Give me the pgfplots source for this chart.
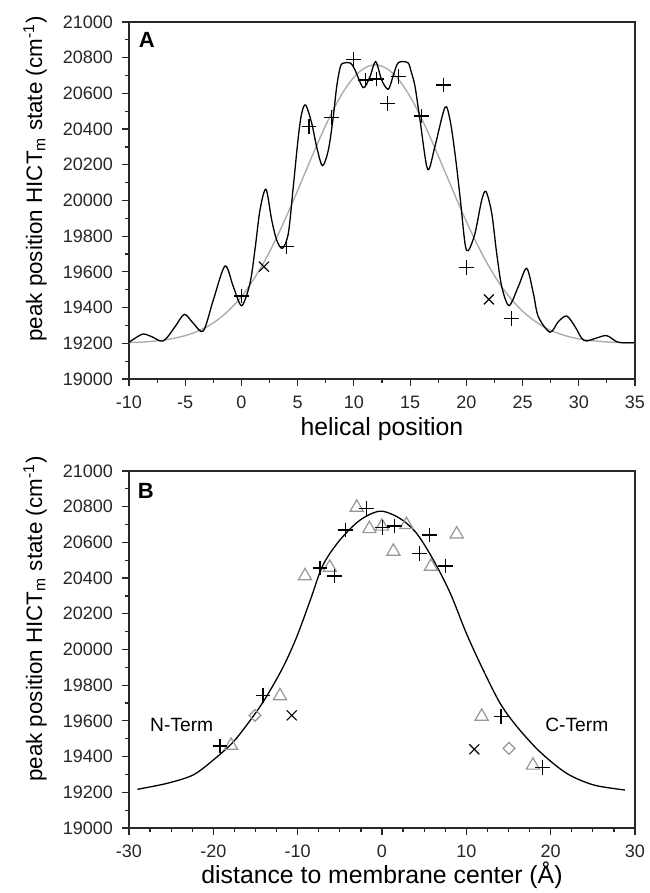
\documentclass[border=0pt]{standalone}
\usepackage{fontspec}
\setmainfont{Liberation Sans}
\usepackage{pgfplots}
\pgfplotsset{compat=1.18}
\definecolor{curvegray}{RGB}{172,172,172}
\definecolor{markgray}{RGB}{150,150,150}
\definecolor{axgray}{RGB}{40,40,40}

\pgfplotsset{
 myaxis/.style={
  scale only axis, width=253pt, height=178.5pt,
  ymin=19000, ymax=21000, ytick={19000,19200,...,21000}, minor y tick num=1,
  scaled y ticks=false,
  yticklabel={\pgfmathprintnumber[fixed,precision=0,1000 sep={}]{\tick}},
  axis line style={line width=0.75pt, axgray},
  every tick/.style={line width=0.6pt, axgray},
  tick align=outside, major tick length=3.5pt, minor tick length=1.8pt,
  xtick pos=bottom, ytick pos=left,
  /pgf/number format/assume math mode=true,
  /pgf/number format/1000 sep={},
  ticklabel style={font=\fontsize{9}{10}\selectfont, text=black!85},
  xticklabel style={yshift=-1.5pt},
  yticklabel style={xshift=-1pt},
  xlabel style={font=\fontsize{12.4}{14}\selectfont, at={(axis description cs:0.5,0)}, anchor=north, inner sep=0pt},
  ylabel style={font=\fontsize{11.2}{13}\selectfont, anchor=center, inner sep=0pt},
  ylabel={peak position HICT\textsubscript{m} state (cm\textsuperscript{-1})},
  clip=false,
 },
 plusm/.style={only marks, mark=+, mark size=3.7pt, mark options={line width=0.6pt, black}},
 xm/.style={only marks, mark=x, mark size=3.5pt, mark options={line width=0.6pt, black}},
 trim/.style={only marks, mark=triangle, mark size=3.8pt, mark options={line width=0.6pt, markgray}},
 diam/.style={only marks, mark=square, mark size=2.1pt, mark options={rotate=45, line width=0.6pt, markgray}},
}

\begin{document}
\begin{tikzpicture}
\path[use as bounding box] (0,0) rectangle (324.5pt,446.5pt);

% ---------------- Panel A ----------------
\begin{axis}[myaxis, at={(64.5pt,257pt)}, anchor=south west,
  xmin=-10, xmax=35, xtick={-10,-5,...,35}, minor x tick num=1,
  xlabel={helical position},
  xlabel style={yshift=-19pt},
  ylabel style={at={(axis description cs:-0.1858,0.56)}},
]
\addplot[curvegray, line width=0.7pt, smooth] coordinates {
(-10,19204) (-9,19206) (-8,19211) (-7,19217) (-6,19228) (-5,19243) (-4,19265)
(-3,19295) (-2,19337) (-1,19392) (0,19462) (1,19550) (2,19654) (3,19775)
(4,19911) (5,20056) (6,20206) (7,20353) (8,20488) (9,20603) (10,20691)
(11,20744) (12,20760) (13,20736) (14,20676) (15,20582) (16,20462) (17,20324)
(18,20176) (19,20027) (20,19883) (21,19750) (22,19632) (23,19530) (24,19447)
(25,19380) (26,19328) (27,19288) (28,19260) (29,19239) (30,19225) (31,19216)
(32,19210) (33,19206) (34,19203) (35,19202)
};
\addplot[black, line width=0.65pt, smooth, tension=0.5] coordinates {
(-10,19205) (-9.47,19228) (-8.73,19252) (-7.98,19237) (-6.95,19213)
(-5.9,19293) (-5.08,19362) (-4.28,19312) (-3.39,19269) (-2.5,19443)
(-1.46,19633) (-0.72,19517) (0.02,19411) (0.76,19536) (1.2,19723)
(1.65,19947) (2.18,20063) (2.69,19891) (3.13,19779) (3.64,19732)
(4.17,19816) (4.61,20077) (5.06,20357) (5.36,20489) (5.71,20535)
(6.25,20433) (6.69,20301) (7.2,20195) (7.73,20283) (8.17,20470)
(8.47,20638) (8.8,20750) (9.1,20770) (9.7,20770) (10.1,20731)
(10.84,20632) (11.43,20694) (11.94,20778) (12.47,20675) (13.06,20623)
(13.5,20700) (13.95,20772) (14.8,20772) (15.1,20720) (15.44,20638)
(15.88,20451) (16.56,20175) (17.2,20301) (18.1,20522) (18.55,20451)
(18.99,20264) (19.44,20021) (19.88,19760) (20.18,19719) (20.77,19816)
(21.37,20003) (21.75,20050) (22.26,19928) (22.7,19704) (23.15,19517)
(23.8,19411) (24.62,19517) (25.37,19620) (25.96,19480) (26.4,19349)
(27.44,19262) (28.18,19321) (28.93,19353) (29.67,19293) (30.26,19228)
(30.7,19213) (31.6,19230) (32.48,19243) (33.37,19209) (34,19203) (35,19203)
};
\addplot[plusm] coordinates {
(0,19465) (4,19741) (6,20414) (8,20466) (10,20791) (11,20675) (12,20681)
(13,20544) (14,20694) (16,20473) (18,20647) (20,19624) (24,19340)
};
\addplot[xm] coordinates {(2,19629) (22,19446)};
\node[font=\bfseries\fontsize{11}{12}\selectfont] at (axis description cs:0.035,0.95) {A};
\end{axis}

% ---------------- Panel B ----------------
\begin{axis}[myaxis, at={(64.5pt,32.5pt)}, anchor=south west,
  xmin=-30, xmax=30, xtick={-30,-20,...,30}, minor x tick num=3,
  xlabel={distance to membrane center (Å)},
  xlabel style={yshift=-16.5pt},
  ylabel style={at={(axis description cs:-0.1858,0.585)}},
]
\addplot[black, line width=0.65pt, smooth] coordinates {
(-29.0,19217) (-25.5,19250) (-22.4,19297) (-20.0,19381) (-17.6,19484)
(-15.3,19624) (-13.7,19736) (-11.7,19904) (-10.1,20072) (-8.5,20277)
(-7.0,20473) (-5.0,20613) (-2.6,20725) (-0.2,20775) (2.1,20735)
(4.1,20651) (6.1,20501) (8.1,20315) (10.0,20091) (12.0,19885)
(14.0,19699) (16.0,19568) (18.7,19428) (21.9,19306) (25.1,19241) (28.8,19213)
};
\addplot[trim] coordinates {
(-17.9,19462) (-12.1,19740) (-9.13,20412) (-6.2,20460) (-3.0,20796)
(-1.5,20676) (0,20690) (1.35,20549) (2.9,20699) (5.8,20465) (8.86,20646)
(11.82,19625) (17.9,19351)
};
\addplot[diam] coordinates {(-15.06,19631) (15.06,19446)};
\addplot[plusm] coordinates {
(-19.2,19459) (-14.1,19743) (-7.35,20457) (-5.65,20412) (-4.3,20669)
(-1.8,20791) (0.1,20684) (1.5,20692) (4.4,20539) (5.6,20642) (7.55,20468)
(14.1,19624) (19.05,19340)
};
\addplot[xm] coordinates {(-10.7,19631) (10.95,19441)};
\node[font=\bfseries\fontsize{11}{12}\selectfont] at (axis description cs:0.033,0.945) {B};
\node[font=\fontsize{9.6}{11}\selectfont] at (axis cs:-23.75,19577) {N-Term};
\node[font=\fontsize{9.6}{11}\selectfont] at (axis cs:23.1,19577) {C-Term};
\end{axis}
\end{tikzpicture}
\end{document}
